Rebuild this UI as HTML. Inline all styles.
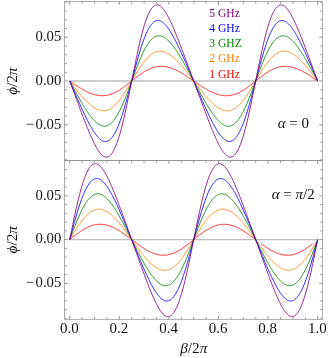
<!DOCTYPE html>
<html><head><meta charset="utf-8"><title>plot</title>
<style>html,body{margin:0;padding:0;background:#fff;}body{width:332px;height:358px;overflow:hidden;font-family:"Liberation Serif",serif;}svg{display:block;will-change:transform;}text{font-family:"Liberation Serif",serif;}</style></head><body>
<svg width="332" height="358" viewBox="0 0 332 358">
<rect width="332" height="358" fill="#fff"/>
<line x1="69.7" y1="81.0" x2="317.7" y2="81.0" stroke="#bdbdbd" stroke-width="1.3"/>
<line x1="69.7" y1="239.6" x2="317.7" y2="239.6" stroke="#bdbdbd" stroke-width="1.3"/>
<path d="M69.70,81.00 L70.32,81.43 L70.94,81.85 L71.56,82.28 L72.17,82.70 L72.79,83.12 L73.41,83.55 L74.03,83.96 L74.65,84.38 L75.27,84.80 L75.88,85.21 L76.50,85.62 L77.12,86.02 L77.74,86.42 L78.36,86.82 L78.98,87.21 L79.60,87.60 L80.21,87.98 L80.83,88.35 L81.45,88.73 L82.07,89.09 L82.69,89.45 L83.31,89.80 L83.92,90.14 L84.54,90.48 L85.16,90.81 L85.78,91.13 L86.40,91.44 L87.02,91.75 L87.64,92.04 L88.25,92.33 L88.87,92.60 L89.49,92.87 L90.11,93.12 L90.73,93.37 L91.35,93.60 L91.96,93.83 L92.58,94.04 L93.20,94.24 L93.82,94.43 L94.44,94.60 L95.06,94.77 L95.68,94.92 L96.29,95.06 L96.91,95.18 L97.53,95.30 L98.15,95.40 L98.77,95.48 L99.39,95.55 L100.00,95.61 L100.62,95.65 L101.24,95.68 L101.86,95.70 L102.48,95.70 L103.10,95.68 L103.71,95.65 L104.33,95.61 L104.95,95.55 L105.57,95.48 L106.19,95.39 L106.81,95.29 L107.43,95.17 L108.04,95.03 L108.66,94.89 L109.28,94.72 L109.90,94.54 L110.52,94.35 L111.14,94.15 L111.75,93.92 L112.37,93.69 L112.99,93.44 L113.61,93.18 L114.23,92.90 L114.85,92.61 L115.47,92.31 L116.08,91.99 L116.70,91.66 L117.32,91.32 L117.94,90.97 L118.56,90.61 L119.18,90.23 L119.79,89.85 L120.41,89.45 L121.03,89.05 L121.65,88.63 L122.27,88.21 L122.89,87.77 L123.51,87.33 L124.12,86.89 L124.74,86.43 L125.36,85.97 L125.98,85.50 L126.60,85.03 L127.22,84.55 L127.83,84.07 L128.45,83.59 L129.07,83.10 L129.69,82.61 L130.31,82.11 L130.93,81.62 L131.55,81.12 L132.16,80.63 L132.78,80.13 L133.40,79.64 L134.02,79.15 L134.64,78.66 L135.26,78.17 L135.87,77.69 L136.49,77.21 L137.11,76.73 L137.73,76.26 L138.35,75.80 L138.97,75.34 L139.59,74.89 L140.20,74.44 L140.82,74.01 L141.44,73.58 L142.06,73.16 L142.68,72.75 L143.30,72.35 L143.91,71.96 L144.53,71.58 L145.15,71.21 L145.77,70.85 L146.39,70.51 L147.01,70.17 L147.63,69.85 L148.24,69.54 L148.86,69.24 L149.48,68.96 L150.10,68.69 L150.72,68.43 L151.34,68.19 L151.95,67.96 L152.57,67.75 L153.19,67.55 L153.81,67.36 L154.43,67.19 L155.05,67.04 L155.67,66.90 L156.28,66.77 L156.90,66.66 L157.52,66.56 L158.14,66.48 L158.76,66.42 L159.38,66.37 L159.99,66.33 L160.61,66.31 L161.23,66.30 L161.85,66.31 L162.47,66.33 L163.09,66.37 L163.70,66.42 L164.32,66.48 L164.94,66.56 L165.56,66.65 L166.18,66.76 L166.80,66.88 L167.42,67.01 L168.03,67.15 L168.65,67.31 L169.27,67.48 L169.89,67.67 L170.51,67.86 L171.13,68.07 L171.74,68.28 L172.36,68.51 L172.98,68.75 L173.60,69.00 L174.22,69.26 L174.84,69.54 L175.46,69.82 L176.07,70.11 L176.69,70.41 L177.31,70.71 L177.93,71.03 L178.55,71.35 L179.17,71.69 L179.78,72.03 L180.40,72.38 L181.02,72.73 L181.64,73.09 L182.26,73.46 L182.88,73.83 L183.50,74.21 L184.11,74.60 L184.73,74.99 L185.35,75.38 L185.97,75.78 L186.59,76.18 L187.21,76.59 L187.82,77.00 L188.44,77.41 L189.06,77.83 L189.68,78.25 L190.30,78.67 L190.92,79.09 L191.54,79.51 L192.15,79.94 L192.77,80.36 L193.39,80.79 L194.01,81.21 L194.63,81.64 L195.25,82.06 L195.86,82.49 L196.48,82.91 L197.10,83.33 L197.72,83.75 L198.34,84.17 L198.96,84.59 L199.58,85.00 L200.19,85.41 L200.81,85.82 L201.43,86.22 L202.05,86.62 L202.67,87.01 L203.29,87.40 L203.90,87.79 L204.52,88.17 L205.14,88.54 L205.76,88.91 L206.38,89.27 L207.00,89.62 L207.62,89.97 L208.23,90.31 L208.85,90.65 L209.47,90.97 L210.09,91.29 L210.71,91.59 L211.33,91.89 L211.94,92.18 L212.56,92.46 L213.18,92.74 L213.80,93.00 L214.42,93.25 L215.04,93.49 L215.66,93.72 L216.27,93.93 L216.89,94.14 L217.51,94.33 L218.13,94.52 L218.75,94.69 L219.37,94.85 L219.98,94.99 L220.60,95.12 L221.22,95.24 L221.84,95.35 L222.46,95.44 L223.08,95.52 L223.70,95.58 L224.31,95.63 L224.93,95.67 L225.55,95.69 L226.17,95.70 L226.79,95.69 L227.41,95.67 L228.02,95.63 L228.64,95.58 L229.26,95.52 L229.88,95.44 L230.50,95.34 L231.12,95.23 L231.73,95.10 L232.35,94.96 L232.97,94.81 L233.59,94.64 L234.21,94.45 L234.83,94.25 L235.45,94.04 L236.06,93.81 L236.68,93.57 L237.30,93.31 L237.92,93.04 L238.54,92.76 L239.16,92.46 L239.77,92.15 L240.39,91.83 L241.01,91.49 L241.63,91.15 L242.25,90.79 L242.87,90.42 L243.49,90.04 L244.10,89.65 L244.72,89.25 L245.34,88.84 L245.96,88.42 L246.58,87.99 L247.20,87.56 L247.81,87.11 L248.43,86.66 L249.05,86.20 L249.67,85.74 L250.29,85.27 L250.91,84.79 L251.53,84.31 L252.14,83.83 L252.76,83.34 L253.38,82.85 L254.00,82.36 L254.62,81.87 L255.24,81.37 L255.85,80.88 L256.47,80.38 L257.09,79.89 L257.71,79.39 L258.33,78.90 L258.95,78.41 L259.57,77.93 L260.18,77.45 L260.80,76.97 L261.42,76.50 L262.04,76.03 L262.66,75.57 L263.28,75.11 L263.89,74.67 L264.51,74.23 L265.13,73.79 L265.75,73.37 L266.37,72.95 L266.99,72.55 L267.61,72.15 L268.22,71.77 L268.84,71.39 L269.46,71.03 L270.08,70.68 L270.70,70.34 L271.32,70.01 L271.93,69.69 L272.55,69.39 L273.17,69.10 L273.79,68.82 L274.41,68.56 L275.03,68.31 L275.65,68.08 L276.26,67.85 L276.88,67.65 L277.50,67.46 L278.12,67.28 L278.74,67.11 L279.36,66.97 L279.97,66.83 L280.59,66.71 L281.21,66.61 L281.83,66.52 L282.45,66.45 L283.07,66.39 L283.69,66.35 L284.30,66.32 L284.92,66.30 L285.54,66.30 L286.16,66.32 L286.78,66.35 L287.40,66.39 L288.01,66.45 L288.63,66.52 L289.25,66.60 L289.87,66.70 L290.49,66.82 L291.11,66.94 L291.72,67.08 L292.34,67.23 L292.96,67.40 L293.58,67.57 L294.20,67.76 L294.82,67.96 L295.44,68.17 L296.05,68.40 L296.67,68.63 L297.29,68.88 L297.91,69.13 L298.53,69.40 L299.15,69.67 L299.76,69.96 L300.38,70.25 L301.00,70.56 L301.62,70.87 L302.24,71.19 L302.86,71.52 L303.48,71.86 L304.09,72.20 L304.71,72.55 L305.33,72.91 L305.95,73.27 L306.57,73.65 L307.19,74.02 L307.80,74.40 L308.42,74.79 L309.04,75.18 L309.66,75.58 L310.28,75.98 L310.90,76.38 L311.52,76.79 L312.13,77.20 L312.75,77.62 L313.37,78.04 L313.99,78.45 L314.61,78.88 L315.23,79.30 L315.84,79.72 L316.46,80.15 L317.08,80.57 L317.70,81.00" fill="none" stroke="#ff0000" stroke-width="0.85" stroke-linejoin="round"/>
<path d="M69.70,81.00 L70.32,81.81 L70.94,82.61 L71.56,83.42 L72.17,84.23 L72.79,85.03 L73.41,85.83 L74.03,86.63 L74.65,87.42 L75.27,88.21 L75.88,89.00 L76.50,89.78 L77.12,90.56 L77.74,91.33 L78.36,92.09 L78.98,92.85 L79.60,93.60 L80.21,94.34 L80.83,95.07 L81.45,95.80 L82.07,96.51 L82.69,97.22 L83.31,97.91 L83.92,98.60 L84.54,99.27 L85.16,99.93 L85.78,100.57 L86.40,101.20 L87.02,101.82 L87.64,102.43 L88.25,103.01 L88.87,103.58 L89.49,104.14 L90.11,104.67 L90.73,105.19 L91.35,105.69 L91.96,106.17 L92.58,106.64 L93.20,107.08 L93.82,107.49 L94.44,107.89 L95.06,108.26 L95.68,108.62 L96.29,108.94 L96.91,109.25 L97.53,109.52 L98.15,109.77 L98.77,110.00 L99.39,110.20 L100.00,110.37 L100.62,110.51 L101.24,110.63 L101.86,110.71 L102.48,110.77 L103.10,110.80 L103.71,110.79 L104.33,110.76 L104.95,110.70 L105.57,110.60 L106.19,110.47 L106.81,110.31 L107.43,110.12 L108.04,109.90 L108.66,109.65 L109.28,109.36 L109.90,109.04 L110.52,108.69 L111.14,108.30 L111.75,107.89 L112.37,107.44 L112.99,106.96 L113.61,106.45 L114.23,105.91 L114.85,105.34 L115.47,104.74 L116.08,104.11 L116.70,103.45 L117.32,102.76 L117.94,102.04 L118.56,101.30 L119.18,100.53 L119.79,99.73 L120.41,98.92 L121.03,98.07 L121.65,97.21 L122.27,96.32 L122.89,95.41 L123.51,94.49 L124.12,93.54 L124.74,92.58 L125.36,91.60 L125.98,90.61 L126.60,89.61 L127.22,88.59 L127.83,87.57 L128.45,86.53 L129.07,85.49 L129.69,84.44 L130.31,83.38 L130.93,82.32 L131.55,81.26 L132.16,80.21 L132.78,79.15 L133.40,78.09 L134.02,77.04 L134.64,75.99 L135.26,74.95 L135.87,73.92 L136.49,72.90 L137.11,71.89 L137.73,70.89 L138.35,69.91 L138.97,68.94 L139.59,67.98 L140.20,67.05 L140.82,66.13 L141.44,65.23 L142.06,64.36 L142.68,63.50 L143.30,62.67 L143.91,61.87 L144.53,61.08 L145.15,60.33 L145.77,59.60 L146.39,58.89 L147.01,58.22 L147.63,57.57 L148.24,56.96 L148.86,56.37 L149.48,55.82 L150.10,55.29 L150.72,54.80 L151.34,54.33 L151.95,53.90 L152.57,53.50 L153.19,53.13 L153.81,52.80 L154.43,52.49 L155.05,52.22 L155.67,51.98 L156.28,51.78 L156.90,51.60 L157.52,51.46 L158.14,51.35 L158.76,51.27 L159.38,51.22 L159.99,51.20 L160.61,51.21 L161.23,51.25 L161.85,51.33 L162.47,51.43 L163.09,51.56 L163.70,51.71 L164.32,51.90 L164.94,52.11 L165.56,52.35 L166.18,52.61 L166.80,52.90 L167.42,53.22 L168.03,53.56 L168.65,53.92 L169.27,54.30 L169.89,54.71 L170.51,55.14 L171.13,55.59 L171.74,56.06 L172.36,56.55 L172.98,57.06 L173.60,57.59 L174.22,58.14 L174.84,58.70 L175.46,59.28 L176.07,59.87 L176.69,60.48 L177.31,61.11 L177.93,61.75 L178.55,62.40 L179.17,63.07 L179.78,63.74 L180.40,64.43 L181.02,65.13 L181.64,65.84 L182.26,66.56 L182.88,67.29 L183.50,68.03 L184.11,68.78 L184.73,69.53 L185.35,70.29 L185.97,71.06 L186.59,71.83 L187.21,72.61 L187.82,73.39 L188.44,74.18 L189.06,74.97 L189.68,75.77 L190.30,76.57 L190.92,77.37 L191.54,78.18 L192.15,78.98 L192.77,79.79 L193.39,80.60 L194.01,81.40 L194.63,82.21 L195.25,83.02 L195.86,83.82 L196.48,84.63 L197.10,85.43 L197.72,86.23 L198.34,87.03 L198.96,87.82 L199.58,88.61 L200.19,89.39 L200.81,90.17 L201.43,90.94 L202.05,91.71 L202.67,92.47 L203.29,93.22 L203.90,93.97 L204.52,94.71 L205.14,95.44 L205.76,96.16 L206.38,96.87 L207.00,97.57 L207.62,98.26 L208.23,98.93 L208.85,99.60 L209.47,100.25 L210.09,100.89 L210.71,101.52 L211.33,102.13 L211.94,102.72 L212.56,103.30 L213.18,103.86 L213.80,104.41 L214.42,104.94 L215.04,105.45 L215.66,105.94 L216.27,106.41 L216.89,106.86 L217.51,107.29 L218.13,107.70 L218.75,108.08 L219.37,108.44 L219.98,108.78 L220.60,109.10 L221.22,109.39 L221.84,109.65 L222.46,109.89 L223.08,110.10 L223.70,110.29 L224.31,110.44 L224.93,110.57 L225.55,110.67 L226.17,110.75 L226.79,110.79 L227.41,110.80 L228.02,110.78 L228.64,110.73 L229.26,110.65 L229.88,110.54 L230.50,110.40 L231.12,110.22 L231.73,110.02 L232.35,109.78 L232.97,109.51 L233.59,109.20 L234.21,108.87 L234.83,108.50 L235.45,108.10 L236.06,107.67 L236.68,107.20 L237.30,106.71 L237.92,106.18 L238.54,105.63 L239.16,105.04 L239.77,104.43 L240.39,103.78 L241.01,103.11 L241.63,102.40 L242.25,101.67 L242.87,100.92 L243.49,100.13 L244.10,99.33 L244.72,98.50 L245.34,97.64 L245.96,96.77 L246.58,95.87 L247.20,94.95 L247.81,94.02 L248.43,93.06 L249.05,92.09 L249.67,91.11 L250.29,90.11 L250.91,89.10 L251.53,88.08 L252.14,87.05 L252.76,86.01 L253.38,84.96 L254.00,83.91 L254.62,82.85 L255.24,81.79 L255.85,80.74 L256.47,79.68 L257.09,78.62 L257.71,77.56 L258.33,76.51 L258.95,75.47 L259.57,74.43 L260.18,73.41 L260.80,72.39 L261.42,71.39 L262.04,70.40 L262.66,69.42 L263.28,68.46 L263.89,67.51 L264.51,66.59 L265.13,65.68 L265.75,64.79 L266.37,63.93 L266.99,63.08 L267.61,62.27 L268.22,61.47 L268.84,60.70 L269.46,59.96 L270.08,59.24 L270.70,58.55 L271.32,57.89 L271.93,57.26 L272.55,56.66 L273.17,56.09 L273.79,55.55 L274.41,55.04 L275.03,54.56 L275.65,54.11 L276.26,53.70 L276.88,53.31 L277.50,52.96 L278.12,52.64 L278.74,52.35 L279.36,52.10 L279.97,51.88 L280.59,51.69 L281.21,51.53 L281.83,51.40 L282.45,51.30 L283.07,51.24 L283.69,51.21 L284.30,51.20 L284.92,51.23 L285.54,51.29 L286.16,51.37 L286.78,51.49 L287.40,51.63 L288.01,51.80 L288.63,52.00 L289.25,52.23 L289.87,52.48 L290.49,52.75 L291.11,53.06 L291.72,53.38 L292.34,53.74 L292.96,54.11 L293.58,54.51 L294.20,54.92 L294.82,55.36 L295.44,55.83 L296.05,56.31 L296.67,56.81 L297.29,57.33 L297.91,57.86 L298.53,58.42 L299.15,58.99 L299.76,59.57 L300.38,60.18 L301.00,60.80 L301.62,61.43 L302.24,62.07 L302.86,62.73 L303.48,63.40 L304.09,64.09 L304.71,64.78 L305.33,65.49 L305.95,66.20 L306.57,66.93 L307.19,67.66 L307.80,68.40 L308.42,69.15 L309.04,69.91 L309.66,70.67 L310.28,71.44 L310.90,72.22 L311.52,73.00 L312.13,73.79 L312.75,74.58 L313.37,75.37 L313.99,76.17 L314.61,76.97 L315.23,77.77 L315.84,78.58 L316.46,79.39 L317.08,80.19 L317.70,81.00" fill="none" stroke="#ff8000" stroke-width="0.85" stroke-linejoin="round"/>
<path d="M69.70,81.00 L70.32,82.15 L70.94,83.29 L71.56,84.44 L72.17,85.58 L72.79,86.73 L73.41,87.87 L74.03,89.00 L74.65,90.14 L75.27,91.27 L75.88,92.39 L76.50,93.51 L77.12,94.63 L77.74,95.74 L78.36,96.84 L78.98,97.93 L79.60,99.02 L80.21,100.10 L80.83,101.17 L81.45,102.23 L82.07,103.27 L82.69,104.31 L83.31,105.34 L83.92,106.35 L84.54,107.35 L85.16,108.33 L85.78,109.30 L86.40,110.25 L87.02,111.19 L87.64,112.10 L88.25,113.00 L88.87,113.88 L89.49,114.74 L90.11,115.57 L90.73,116.38 L91.35,117.17 L91.96,117.94 L92.58,118.67 L93.20,119.38 L93.82,120.06 L94.44,120.71 L95.06,121.33 L95.68,121.92 L96.29,122.48 L96.91,123.00 L97.53,123.49 L98.15,123.94 L98.77,124.35 L99.39,124.72 L100.00,125.06 L100.62,125.35 L101.24,125.60 L101.86,125.81 L102.48,125.98 L103.10,126.10 L103.71,126.17 L104.33,126.20 L104.95,126.18 L105.57,126.11 L106.19,125.99 L106.81,125.83 L107.43,125.61 L108.04,125.34 L108.66,125.02 L109.28,124.65 L109.90,124.23 L110.52,123.75 L111.14,123.23 L111.75,122.65 L112.37,122.01 L112.99,121.33 L113.61,120.59 L114.23,119.80 L114.85,118.97 L115.47,118.08 L116.08,117.14 L116.70,116.15 L117.32,115.11 L117.94,114.03 L118.56,112.89 L119.18,111.72 L119.79,110.50 L120.41,109.24 L121.03,107.93 L121.65,106.59 L122.27,105.21 L122.89,103.80 L123.51,102.35 L124.12,100.87 L124.74,99.35 L125.36,97.82 L125.98,96.25 L126.60,94.66 L127.22,93.06 L127.83,91.43 L128.45,89.79 L129.07,88.13 L129.69,86.46 L130.31,84.79 L130.93,83.11 L131.55,81.42 L132.16,79.74 L132.78,78.05 L133.40,76.37 L134.02,74.70 L134.64,73.04 L135.26,71.39 L135.87,69.76 L136.49,68.14 L137.11,66.54 L137.73,64.96 L138.35,63.41 L138.97,61.89 L139.59,60.39 L140.20,58.92 L140.82,57.49 L141.44,56.09 L142.06,54.73 L142.68,53.41 L143.30,52.13 L143.91,50.89 L144.53,49.69 L145.15,48.53 L145.77,47.43 L146.39,46.37 L147.01,45.35 L147.63,44.39 L148.24,43.47 L148.86,42.61 L149.48,41.79 L150.10,41.03 L150.72,40.32 L151.34,39.66 L151.95,39.06 L152.57,38.50 L153.19,38.00 L153.81,37.55 L154.43,37.16 L155.05,36.81 L155.67,36.52 L156.28,36.27 L156.90,36.08 L157.52,35.94 L158.14,35.85 L158.76,35.80 L159.38,35.81 L159.99,35.86 L160.61,35.96 L161.23,36.10 L161.85,36.29 L162.47,36.52 L163.09,36.79 L163.70,37.10 L164.32,37.46 L164.94,37.85 L165.56,38.28 L166.18,38.75 L166.80,39.26 L167.42,39.79 L168.03,40.37 L168.65,40.97 L169.27,41.61 L169.89,42.27 L170.51,42.97 L171.13,43.69 L171.74,44.44 L172.36,45.22 L172.98,46.02 L173.60,46.84 L174.22,47.69 L174.84,48.56 L175.46,49.44 L176.07,50.35 L176.69,51.28 L177.31,52.22 L177.93,53.18 L178.55,54.16 L179.17,55.15 L179.78,56.16 L180.40,57.17 L181.02,58.21 L181.64,59.25 L182.26,60.30 L182.88,61.37 L183.50,62.44 L184.11,63.52 L184.73,64.61 L185.35,65.71 L185.97,66.82 L186.59,67.93 L187.21,69.05 L187.82,70.17 L188.44,71.30 L189.06,72.43 L189.68,73.56 L190.30,74.70 L190.92,75.84 L191.54,76.99 L192.15,78.13 L192.77,79.28 L193.39,80.43 L194.01,81.57 L194.63,82.72 L195.25,83.87 L195.86,85.01 L196.48,86.16 L197.10,87.30 L197.72,88.44 L198.34,89.57 L198.96,90.70 L199.58,91.83 L200.19,92.95 L200.81,94.07 L201.43,95.18 L202.05,96.29 L202.67,97.39 L203.29,98.48 L203.90,99.56 L204.52,100.63 L205.14,101.70 L205.76,102.75 L206.38,103.79 L207.00,104.83 L207.62,105.84 L208.23,106.85 L208.85,107.84 L209.47,108.82 L210.09,109.78 L210.71,110.72 L211.33,111.65 L211.94,112.56 L212.56,113.44 L213.18,114.31 L213.80,115.16 L214.42,115.98 L215.04,116.78 L215.66,117.56 L216.27,118.31 L216.89,119.03 L217.51,119.73 L218.13,120.39 L218.75,121.03 L219.37,121.63 L219.98,122.21 L220.60,122.74 L221.22,123.25 L221.84,123.72 L222.46,124.15 L223.08,124.54 L223.70,124.90 L224.31,125.21 L224.93,125.48 L225.55,125.71 L226.17,125.90 L226.79,126.04 L227.41,126.14 L228.02,126.19 L228.64,126.20 L229.26,126.15 L229.88,126.06 L230.50,125.92 L231.12,125.73 L231.73,125.48 L232.35,125.19 L232.97,124.84 L233.59,124.45 L234.21,124.00 L234.83,123.50 L235.45,122.94 L236.06,122.34 L236.68,121.68 L237.30,120.97 L237.92,120.21 L238.54,119.39 L239.16,118.53 L239.77,117.61 L240.39,116.65 L241.01,115.63 L241.63,114.57 L242.25,113.47 L242.87,112.31 L243.49,111.11 L244.10,109.87 L244.72,108.59 L245.34,107.27 L245.96,105.91 L246.58,104.51 L247.20,103.08 L247.81,101.61 L248.43,100.11 L249.05,98.59 L249.67,97.04 L250.29,95.46 L250.91,93.86 L251.53,92.24 L252.14,90.61 L252.76,88.96 L253.38,87.30 L254.00,85.63 L254.62,83.95 L255.24,82.26 L255.85,80.58 L256.47,78.89 L257.09,77.21 L257.71,75.54 L258.33,73.87 L258.95,72.21 L259.57,70.57 L260.18,68.94 L260.80,67.34 L261.42,65.75 L262.04,64.18 L262.66,62.65 L263.28,61.13 L263.89,59.65 L264.51,58.20 L265.13,56.79 L265.75,55.41 L266.37,54.07 L266.99,52.76 L267.61,51.50 L268.22,50.28 L268.84,49.11 L269.46,47.97 L270.08,46.89 L270.70,45.85 L271.32,44.86 L271.93,43.92 L272.55,43.03 L273.17,42.20 L273.79,41.41 L274.41,40.67 L275.03,39.99 L275.65,39.35 L276.26,38.77 L276.88,38.25 L277.50,37.77 L278.12,37.35 L278.74,36.98 L279.36,36.66 L279.97,36.39 L280.59,36.17 L281.21,36.01 L281.83,35.89 L282.45,35.82 L283.07,35.80 L283.69,35.83 L284.30,35.90 L284.92,36.02 L285.54,36.19 L286.16,36.40 L286.78,36.65 L287.40,36.94 L288.01,37.28 L288.63,37.65 L289.25,38.06 L289.87,38.51 L290.49,39.00 L291.11,39.52 L291.72,40.08 L292.34,40.67 L292.96,41.29 L293.58,41.94 L294.20,42.62 L294.82,43.33 L295.44,44.06 L296.05,44.83 L296.67,45.62 L297.29,46.43 L297.91,47.26 L298.53,48.12 L299.15,49.00 L299.76,49.90 L300.38,50.81 L301.00,51.75 L301.62,52.70 L302.24,53.67 L302.86,54.65 L303.48,55.65 L304.09,56.66 L304.71,57.69 L305.33,58.73 L305.95,59.77 L306.57,60.83 L307.19,61.90 L307.80,62.98 L308.42,64.07 L309.04,65.16 L309.66,66.26 L310.28,67.37 L310.90,68.49 L311.52,69.61 L312.13,70.73 L312.75,71.86 L313.37,73.00 L313.99,74.13 L314.61,75.27 L315.23,76.42 L315.84,77.56 L316.46,78.71 L317.08,79.85 L317.70,81.00" fill="none" stroke="#008000" stroke-width="0.85" stroke-linejoin="round"/>
<path d="M69.70,81.00 L70.32,82.43 L70.94,83.86 L71.56,85.29 L72.17,86.72 L72.79,88.15 L73.41,89.58 L74.03,91.00 L74.65,92.42 L75.27,93.84 L75.88,95.25 L76.50,96.67 L77.12,98.07 L77.74,99.47 L78.36,100.87 L78.98,102.26 L79.60,103.65 L80.21,105.02 L80.83,106.39 L81.45,107.75 L82.07,109.10 L82.69,110.44 L83.31,111.77 L83.92,113.09 L84.54,114.39 L85.16,115.69 L85.78,116.96 L86.40,118.22 L87.02,119.46 L87.64,120.69 L88.25,121.90 L88.87,123.08 L89.49,124.24 L90.11,125.38 L90.73,126.50 L91.35,127.58 L91.96,128.64 L92.58,129.68 L93.20,130.68 L93.82,131.64 L94.44,132.58 L95.06,133.47 L95.68,134.33 L96.29,135.15 L96.91,135.93 L97.53,136.67 L98.15,137.36 L98.77,138.00 L99.39,138.60 L100.00,139.14 L100.62,139.64 L101.24,140.07 L101.86,140.46 L102.48,140.78 L103.10,141.05 L103.71,141.26 L104.33,141.40 L104.95,141.48 L105.57,141.50 L106.19,141.45 L106.81,141.32 L107.43,141.14 L108.04,140.87 L108.66,140.54 L109.28,140.14 L109.90,139.66 L110.52,139.11 L111.14,138.48 L111.75,137.78 L112.37,137.00 L112.99,136.15 L113.61,135.22 L114.23,134.21 L114.85,133.13 L115.47,131.98 L116.08,130.75 L116.70,129.45 L117.32,128.08 L117.94,126.63 L118.56,125.12 L119.18,123.54 L119.79,121.89 L120.41,120.18 L121.03,118.41 L121.65,116.58 L122.27,114.69 L122.89,112.74 L123.51,110.75 L124.12,108.70 L124.74,106.61 L125.36,104.48 L125.98,102.31 L126.60,100.10 L127.22,97.86 L127.83,95.59 L128.45,93.30 L129.07,90.98 L129.69,88.65 L130.31,86.30 L130.93,83.95 L131.55,81.59 L132.16,79.23 L132.78,76.87 L133.40,74.52 L134.02,72.18 L134.64,69.86 L135.26,67.56 L135.87,65.27 L136.49,63.02 L137.11,60.79 L137.73,58.60 L138.35,56.45 L138.97,54.34 L139.59,52.27 L140.20,50.25 L140.82,48.28 L141.44,46.36 L142.06,44.50 L142.68,42.70 L143.30,40.95 L143.91,39.27 L144.53,37.66 L145.15,36.11 L145.77,34.63 L146.39,33.23 L147.01,31.89 L147.63,30.62 L148.24,29.43 L148.86,28.32 L149.48,27.27 L150.10,26.31 L150.72,25.42 L151.34,24.60 L151.95,23.86 L152.57,23.20 L153.19,22.61 L153.81,22.09 L154.43,21.65 L155.05,21.28 L155.67,20.99 L156.28,20.76 L156.90,20.61 L157.52,20.52 L158.14,20.50 L158.76,20.55 L159.38,20.66 L159.99,20.84 L160.61,21.07 L161.23,21.37 L161.85,21.73 L162.47,22.14 L163.09,22.60 L163.70,23.12 L164.32,23.69 L164.94,24.31 L165.56,24.98 L166.18,25.70 L166.80,26.45 L167.42,27.25 L168.03,28.09 L168.65,28.97 L169.27,29.89 L169.89,30.84 L170.51,31.82 L171.13,32.84 L171.74,33.88 L172.36,34.96 L172.98,36.06 L173.60,37.18 L174.22,38.34 L174.84,39.51 L175.46,40.71 L176.07,41.92 L176.69,43.15 L177.31,44.41 L177.93,45.67 L178.55,46.96 L179.17,48.26 L179.78,49.57 L180.40,50.89 L181.02,52.23 L181.64,53.57 L182.26,54.93 L182.88,56.29 L183.50,57.67 L184.11,59.05 L184.73,60.43 L185.35,61.83 L185.97,63.23 L186.59,64.63 L187.21,66.04 L187.82,67.45 L188.44,68.87 L189.06,70.29 L189.68,71.71 L190.30,73.14 L190.92,74.56 L191.54,75.99 L192.15,77.42 L192.77,78.85 L193.39,80.28 L194.01,81.72 L194.63,83.15 L195.25,84.58 L195.86,86.01 L196.48,87.44 L197.10,88.86 L197.72,90.29 L198.34,91.71 L198.96,93.13 L199.58,94.55 L200.19,95.96 L200.81,97.37 L201.43,98.77 L202.05,100.17 L202.67,101.57 L203.29,102.95 L203.90,104.33 L204.52,105.71 L205.14,107.07 L205.76,108.43 L206.38,109.77 L207.00,111.11 L207.62,112.43 L208.23,113.74 L208.85,115.04 L209.47,116.33 L210.09,117.59 L210.71,118.85 L211.33,120.08 L211.94,121.29 L212.56,122.49 L213.18,123.66 L213.80,124.82 L214.42,125.94 L215.04,127.04 L215.66,128.12 L216.27,129.16 L216.89,130.18 L217.51,131.16 L218.13,132.11 L218.75,133.03 L219.37,133.91 L219.98,134.75 L220.60,135.55 L221.22,136.30 L221.84,137.02 L222.46,137.69 L223.08,138.31 L223.70,138.88 L224.31,139.40 L224.93,139.86 L225.55,140.27 L226.17,140.63 L226.79,140.93 L227.41,141.16 L228.02,141.34 L228.64,141.45 L229.26,141.50 L229.88,141.48 L230.50,141.39 L231.12,141.24 L231.73,141.01 L232.35,140.72 L232.97,140.35 L233.59,139.91 L234.21,139.39 L234.83,138.80 L235.45,138.14 L236.06,137.40 L236.68,136.58 L237.30,135.69 L237.92,134.73 L238.54,133.68 L239.16,132.57 L239.77,131.38 L240.39,130.11 L241.01,128.77 L241.63,127.37 L242.25,125.89 L242.87,124.34 L243.49,122.73 L244.10,121.05 L244.72,119.30 L245.34,117.50 L245.96,115.64 L246.58,113.72 L247.20,111.75 L247.81,109.73 L248.43,107.66 L249.05,105.55 L249.67,103.40 L250.29,101.21 L250.91,98.98 L251.53,96.73 L252.14,94.44 L252.76,92.14 L253.38,89.82 L254.00,87.48 L254.62,85.13 L255.24,82.77 L255.85,80.41 L256.47,78.05 L257.09,75.70 L257.71,73.35 L258.33,71.02 L258.95,68.70 L259.57,66.41 L260.18,64.14 L260.80,61.90 L261.42,59.69 L262.04,57.52 L262.66,55.39 L263.28,53.30 L263.89,51.25 L264.51,49.26 L265.13,47.31 L265.75,45.42 L266.37,43.59 L266.99,41.82 L267.61,40.11 L268.22,38.46 L268.84,36.88 L269.46,35.37 L270.08,33.92 L270.70,32.55 L271.32,31.25 L271.93,30.02 L272.55,28.87 L273.17,27.79 L273.79,26.78 L274.41,25.85 L275.03,25.00 L275.65,24.22 L276.26,23.52 L276.88,22.89 L277.50,22.34 L278.12,21.86 L278.74,21.46 L279.36,21.13 L279.97,20.86 L280.59,20.68 L281.21,20.55 L281.83,20.50 L282.45,20.52 L283.07,20.60 L283.69,20.74 L284.30,20.95 L284.92,21.22 L285.54,21.54 L286.16,21.93 L286.78,22.36 L287.40,22.86 L288.01,23.40 L288.63,24.00 L289.25,24.64 L289.87,25.33 L290.49,26.07 L291.11,26.85 L291.72,27.67 L292.34,28.53 L292.96,29.42 L293.58,30.36 L294.20,31.32 L294.82,32.32 L295.44,33.36 L296.05,34.42 L296.67,35.50 L297.29,36.62 L297.91,37.76 L298.53,38.92 L299.15,40.10 L299.76,41.31 L300.38,42.54 L301.00,43.78 L301.62,45.04 L302.24,46.31 L302.86,47.61 L303.48,48.91 L304.09,50.23 L304.71,51.56 L305.33,52.90 L305.95,54.25 L306.57,55.61 L307.19,56.98 L307.80,58.35 L308.42,59.74 L309.04,61.13 L309.66,62.53 L310.28,63.93 L310.90,65.33 L311.52,66.75 L312.13,68.16 L312.75,69.58 L313.37,71.00 L313.99,72.42 L314.61,73.85 L315.23,75.28 L315.84,76.71 L316.46,78.14 L317.08,79.57 L317.70,81.00" fill="none" stroke="#0000ff" stroke-width="0.85" stroke-linejoin="round"/>
<path d="M69.70,81.00 L70.32,82.67 L70.94,84.34 L71.56,86.01 L72.17,87.68 L72.79,89.34 L73.41,91.01 L74.03,92.68 L74.65,94.35 L75.27,96.01 L75.88,97.67 L76.50,99.34 L77.12,101.00 L77.74,102.65 L78.36,104.31 L78.98,105.96 L79.60,107.61 L80.21,109.25 L80.83,110.89 L81.45,112.53 L82.07,114.16 L82.69,115.78 L83.31,117.39 L83.92,119.00 L84.54,120.59 L85.16,122.18 L85.78,123.75 L86.40,125.31 L87.02,126.86 L87.64,128.39 L88.25,129.90 L88.87,131.39 L89.49,132.87 L90.11,134.32 L90.73,135.75 L91.35,137.15 L91.96,138.53 L92.58,139.87 L93.20,141.19 L93.82,142.46 L94.44,143.71 L95.06,144.91 L95.68,146.08 L96.29,147.20 L96.91,148.27 L97.53,149.30 L98.15,150.27 L98.77,151.20 L99.39,152.06 L100.00,152.87 L100.62,153.61 L101.24,154.29 L101.86,154.91 L102.48,155.45 L103.10,155.92 L103.71,156.32 L104.33,156.63 L104.95,156.87 L105.57,157.03 L106.19,157.10 L106.81,157.08 L107.43,156.97 L108.04,156.77 L108.66,156.48 L109.28,156.09 L109.90,155.61 L110.52,155.03 L111.14,154.35 L111.75,153.56 L112.37,152.68 L112.99,151.69 L113.61,150.61 L114.23,149.42 L114.85,148.12 L115.47,146.72 L116.08,145.23 L116.70,143.63 L117.32,141.93 L117.94,140.13 L118.56,138.24 L119.18,136.25 L119.79,134.16 L120.41,131.99 L121.03,129.73 L121.65,127.39 L122.27,124.96 L122.89,122.46 L123.51,119.88 L124.12,117.23 L124.74,114.52 L125.36,111.75 L125.98,108.92 L126.60,106.04 L127.22,103.11 L127.83,100.14 L128.45,97.14 L129.07,94.10 L129.69,91.04 L130.31,87.96 L130.93,84.87 L131.55,81.78 L132.16,78.68 L132.78,75.58 L133.40,72.49 L134.02,69.43 L134.64,66.38 L135.26,63.36 L135.87,60.37 L136.49,57.42 L137.11,54.52 L137.73,51.66 L138.35,48.86 L138.97,46.12 L139.59,43.43 L140.20,40.82 L140.82,38.28 L141.44,35.82 L142.06,33.43 L142.68,31.13 L143.30,28.91 L143.91,26.78 L144.53,24.75 L145.15,22.81 L145.77,20.96 L146.39,19.21 L147.01,17.56 L147.63,16.01 L148.24,14.56 L148.86,13.22 L149.48,11.98 L150.10,10.84 L150.72,9.80 L151.34,8.86 L151.95,8.03 L152.57,7.30 L153.19,6.67 L153.81,6.14 L154.43,5.70 L155.05,5.36 L155.67,5.12 L156.28,4.96 L156.90,4.90 L157.52,4.93 L158.14,5.04 L158.76,5.24 L159.38,5.52 L159.99,5.87 L160.61,6.31 L161.23,6.81 L161.85,7.39 L162.47,8.04 L163.09,8.75 L163.70,9.53 L164.32,10.36 L164.94,11.26 L165.56,12.21 L166.18,13.21 L166.80,14.26 L167.42,15.36 L168.03,16.50 L168.65,17.68 L169.27,18.91 L169.89,20.17 L170.51,21.47 L171.13,22.80 L171.74,24.16 L172.36,25.55 L172.98,26.96 L173.60,28.40 L174.22,29.87 L174.84,31.35 L175.46,32.86 L176.07,34.38 L176.69,35.92 L177.31,37.47 L177.93,39.04 L178.55,40.61 L179.17,42.21 L179.78,43.81 L180.40,45.42 L181.02,47.03 L181.64,48.66 L182.26,50.29 L182.88,51.93 L183.50,53.57 L184.11,55.21 L184.73,56.87 L185.35,58.52 L185.97,60.18 L186.59,61.83 L187.21,63.50 L187.82,65.16 L188.44,66.82 L189.06,68.49 L189.68,70.15 L190.30,71.82 L190.92,73.49 L191.54,75.16 L192.15,76.83 L192.77,78.50 L193.39,80.17 L194.01,81.83 L194.63,83.50 L195.25,85.17 L195.86,86.84 L196.48,88.51 L197.10,90.18 L197.72,91.85 L198.34,93.51 L198.96,95.18 L199.58,96.84 L200.19,98.50 L200.81,100.17 L201.43,101.82 L202.05,103.48 L202.67,105.13 L203.29,106.79 L203.90,108.43 L204.52,110.07 L205.14,111.71 L205.76,113.34 L206.38,114.97 L207.00,116.58 L207.62,118.19 L208.23,119.79 L208.85,121.39 L209.47,122.96 L210.09,124.53 L210.71,126.08 L211.33,127.62 L211.94,129.14 L212.56,130.65 L213.18,132.13 L213.80,133.60 L214.42,135.04 L215.04,136.45 L215.66,137.84 L216.27,139.20 L216.89,140.53 L217.51,141.83 L218.13,143.09 L218.75,144.32 L219.37,145.50 L219.98,146.64 L220.60,147.74 L221.22,148.79 L221.84,149.79 L222.46,150.74 L223.08,151.64 L223.70,152.47 L224.31,153.25 L224.93,153.96 L225.55,154.61 L226.17,155.19 L226.79,155.69 L227.41,156.13 L228.02,156.48 L228.64,156.76 L229.26,156.96 L229.88,157.07 L230.50,157.10 L231.12,157.04 L231.73,156.88 L232.35,156.64 L232.97,156.30 L233.59,155.86 L234.21,155.33 L234.83,154.70 L235.45,153.97 L236.06,153.14 L236.68,152.20 L237.30,151.16 L237.92,150.02 L238.54,148.78 L239.16,147.44 L239.77,145.99 L240.39,144.44 L241.01,142.79 L241.63,141.04 L242.25,139.19 L242.87,137.25 L243.49,135.22 L244.10,133.09 L244.72,130.87 L245.34,128.57 L245.96,126.18 L246.58,123.72 L247.20,121.18 L247.81,118.57 L248.43,115.88 L249.05,113.14 L249.67,110.34 L250.29,107.48 L250.91,104.58 L251.53,101.63 L252.14,98.64 L252.76,95.62 L253.38,92.57 L254.00,89.51 L254.62,86.42 L255.24,83.32 L255.85,80.22 L256.47,77.13 L257.09,74.04 L257.71,70.96 L258.33,67.90 L258.95,64.86 L259.57,61.86 L260.18,58.89 L260.80,55.96 L261.42,53.08 L262.04,50.25 L262.66,47.48 L263.28,44.77 L263.89,42.12 L264.51,39.54 L265.13,37.04 L265.75,34.61 L266.37,32.27 L266.99,30.01 L267.61,27.84 L268.22,25.75 L268.84,23.76 L269.46,21.87 L270.08,20.07 L270.70,18.37 L271.32,16.77 L271.93,15.28 L272.55,13.88 L273.17,12.58 L273.79,11.39 L274.41,10.31 L275.03,9.32 L275.65,8.44 L276.26,7.65 L276.88,6.97 L277.50,6.39 L278.12,5.91 L278.74,5.52 L279.36,5.23 L279.97,5.03 L280.59,4.92 L281.21,4.90 L281.83,4.97 L282.45,5.13 L283.07,5.37 L283.69,5.68 L284.30,6.08 L284.92,6.55 L285.54,7.09 L286.16,7.71 L286.78,8.39 L287.40,9.13 L288.01,9.94 L288.63,10.80 L289.25,11.73 L289.87,12.70 L290.49,13.73 L291.11,14.80 L291.72,15.92 L292.34,17.09 L292.96,18.29 L293.58,19.54 L294.20,20.81 L294.82,22.13 L295.44,23.47 L296.05,24.85 L296.67,26.25 L297.29,27.68 L297.91,29.13 L298.53,30.61 L299.15,32.10 L299.76,33.61 L300.38,35.14 L301.00,36.69 L301.62,38.25 L302.24,39.82 L302.86,41.41 L303.48,43.00 L304.09,44.61 L304.71,46.22 L305.33,47.84 L305.95,49.47 L306.57,51.11 L307.19,52.75 L307.80,54.39 L308.42,56.04 L309.04,57.69 L309.66,59.35 L310.28,61.00 L310.90,62.66 L311.52,64.33 L312.13,65.99 L312.75,67.65 L313.37,69.32 L313.99,70.99 L314.61,72.66 L315.23,74.32 L315.84,75.99 L316.46,77.66 L317.08,79.33 L317.70,81.00" fill="none" stroke="#800080" stroke-width="0.85" stroke-linejoin="round"/>
<path d="M69.70,239.60 L70.32,239.10 L70.94,238.61 L71.56,238.11 L72.17,237.62 L72.79,237.13 L73.41,236.64 L74.03,236.16 L74.65,235.67 L75.27,235.20 L75.89,234.73 L76.50,234.26 L77.12,233.80 L77.74,233.34 L78.36,232.89 L78.98,232.45 L79.60,232.02 L80.22,231.59 L80.83,231.18 L81.45,230.77 L82.07,230.37 L82.69,229.98 L83.31,229.61 L83.93,229.24 L84.55,228.88 L85.17,228.54 L85.78,228.20 L86.40,227.88 L87.02,227.57 L87.64,227.27 L88.26,226.99 L88.88,226.72 L89.50,226.46 L90.11,226.22 L90.73,225.99 L91.35,225.77 L91.97,225.57 L92.59,225.39 L93.21,225.21 L93.83,225.05 L94.44,224.91 L95.06,224.78 L95.68,224.67 L96.30,224.57 L96.92,224.49 L97.54,224.42 L98.16,224.37 L98.77,224.33 L99.39,224.31 L100.01,224.30 L100.63,224.31 L101.25,224.33 L101.87,224.37 L102.49,224.42 L103.10,224.49 L103.72,224.57 L104.34,224.67 L104.96,224.78 L105.58,224.90 L106.20,225.04 L106.82,225.19 L107.43,225.36 L108.05,225.54 L108.67,225.73 L109.29,225.94 L109.91,226.16 L110.53,226.39 L111.15,226.63 L111.77,226.89 L112.38,227.16 L113.00,227.44 L113.62,227.73 L114.24,228.03 L114.86,228.34 L115.48,228.66 L116.10,229.00 L116.71,229.34 L117.33,229.69 L117.95,230.05 L118.57,230.42 L119.19,230.79 L119.81,231.18 L120.43,231.57 L121.04,231.97 L121.66,232.38 L122.28,232.79 L122.90,233.21 L123.52,233.64 L124.14,234.07 L124.76,234.50 L125.37,234.94 L125.99,235.38 L126.61,235.83 L127.23,236.28 L127.85,236.74 L128.47,237.19 L129.09,237.65 L129.70,238.11 L130.32,238.57 L130.94,239.03 L131.56,239.50 L132.18,239.97 L132.80,240.44 L133.42,240.91 L134.03,241.38 L134.65,241.85 L135.27,242.31 L135.89,242.78 L136.51,243.24 L137.13,243.69 L137.75,244.15 L138.37,244.60 L138.98,245.04 L139.60,245.48 L140.22,245.92 L140.84,246.35 L141.46,246.77 L142.08,247.19 L142.70,247.60 L143.31,248.01 L143.93,248.40 L144.55,248.79 L145.17,249.17 L145.79,249.54 L146.41,249.90 L147.03,250.26 L147.64,250.60 L148.26,250.93 L148.88,251.26 L149.50,251.57 L150.12,251.87 L150.74,252.16 L151.36,252.44 L151.97,252.70 L152.59,252.96 L153.21,253.20 L153.83,253.43 L154.45,253.65 L155.07,253.85 L155.69,254.04 L156.30,254.22 L156.92,254.38 L157.54,254.53 L158.16,254.66 L158.78,254.78 L159.40,254.88 L160.02,254.97 L160.63,255.05 L161.25,255.11 L161.87,255.15 L162.49,255.18 L163.11,255.20 L163.73,255.20 L164.35,255.18 L164.97,255.15 L165.58,255.10 L166.20,255.04 L166.82,254.96 L167.44,254.87 L168.06,254.76 L168.68,254.64 L169.30,254.50 L169.91,254.34 L170.53,254.17 L171.15,253.99 L171.77,253.79 L172.39,253.58 L173.01,253.35 L173.63,253.11 L174.24,252.85 L174.86,252.58 L175.48,252.30 L176.10,252.00 L176.72,251.69 L177.34,251.37 L177.96,251.04 L178.57,250.69 L179.19,250.33 L179.81,249.96 L180.43,249.58 L181.05,249.19 L181.67,248.79 L182.29,248.38 L182.90,247.96 L183.52,247.53 L184.14,247.09 L184.76,246.64 L185.38,246.19 L186.00,245.73 L186.62,245.26 L187.23,244.79 L187.85,244.31 L188.47,243.82 L189.09,243.33 L189.71,242.84 L190.33,242.34 L190.95,241.84 L191.57,241.34 L192.18,240.84 L192.80,240.33 L193.42,239.83 L194.04,239.33 L194.66,238.83 L195.28,238.34 L195.90,237.84 L196.51,237.35 L197.13,236.86 L197.75,236.37 L198.37,235.89 L198.99,235.41 L199.61,234.94 L200.23,234.47 L200.84,234.00 L201.46,233.55 L202.08,233.10 L202.70,232.65 L203.32,232.21 L203.94,231.79 L204.56,231.36 L205.17,230.95 L205.79,230.55 L206.41,230.16 L207.03,229.77 L207.65,229.40 L208.27,229.04 L208.89,228.69 L209.50,228.35 L210.12,228.02 L210.74,227.71 L211.36,227.41 L211.98,227.12 L212.60,226.84 L213.22,226.58 L213.83,226.33 L214.45,226.09 L215.07,225.87 L215.69,225.66 L216.31,225.47 L216.93,225.29 L217.55,225.12 L218.17,224.97 L218.78,224.84 L219.40,224.72 L220.02,224.61 L220.64,224.52 L221.26,224.45 L221.88,224.39 L222.50,224.35 L223.11,224.32 L223.73,224.30 L224.35,224.30 L224.97,224.32 L225.59,224.35 L226.21,224.39 L226.83,224.46 L227.44,224.53 L228.06,224.62 L228.68,224.72 L229.30,224.84 L229.92,224.98 L230.54,225.12 L231.16,225.28 L231.77,225.46 L232.39,225.64 L233.01,225.84 L233.63,226.06 L234.25,226.28 L234.87,226.52 L235.49,226.77 L236.10,227.03 L236.72,227.31 L237.34,227.59 L237.96,227.89 L238.58,228.20 L239.20,228.52 L239.82,228.84 L240.43,229.18 L241.05,229.53 L241.67,229.88 L242.29,230.25 L242.91,230.62 L243.53,231.00 L244.15,231.39 L244.77,231.79 L245.38,232.19 L246.00,232.60 L246.62,233.02 L247.24,233.44 L247.86,233.87 L248.48,234.30 L249.10,234.74 L249.71,235.18 L250.33,235.63 L250.95,236.08 L251.57,236.53 L252.19,236.99 L252.81,237.44 L253.43,237.90 L254.04,238.36 L254.66,238.82 L255.28,239.29 L255.90,239.75 M261.10,243.67 L261.72,244.13 L262.34,244.58 L262.95,245.02 L263.57,245.46 L264.19,245.90 L264.81,246.33 L265.43,246.75 L266.04,247.17 L266.66,247.58 L267.28,247.98 L267.90,248.38 L268.52,248.77 L269.13,249.15 L269.75,249.52 L270.37,249.88 L270.99,250.24 L271.61,250.58 L272.23,250.91 L272.84,251.24 L273.46,251.55 L274.08,251.85 L274.70,252.14 L275.32,252.42 L275.93,252.69 L276.55,252.94 L277.17,253.19 L277.79,253.41 L278.41,253.63 L279.02,253.84 L279.64,254.03 L280.26,254.20 L280.88,254.37 L281.50,254.51 L282.11,254.65 L282.73,254.77 L283.35,254.88 L283.97,254.97 L284.59,255.04 L285.20,255.10 L285.82,255.15 L286.44,255.18 L287.06,255.20 L287.68,255.20 L288.30,255.18 L288.91,255.15 L289.53,255.11 L290.15,255.05 L290.77,254.97 L291.39,254.88 L292.00,254.77 L292.62,254.65 L293.24,254.51 L293.86,254.36 L294.48,254.19 L295.09,254.01 L295.71,253.81 L296.33,253.60 L296.95,253.37 L297.57,253.13 L298.18,252.88 L298.80,252.61 L299.42,252.33 L300.04,252.03 L300.66,251.72 L301.27,251.40 L301.89,251.07 L302.51,250.73 L303.13,250.37 L303.75,250.00 L304.37,249.62 L304.98,249.23 L305.60,248.83 L306.22,248.42 L306.84,248.00 L307.46,247.57 L308.07,247.14 L308.69,246.69 L309.31,246.24 L309.93,245.78 L310.55,245.31 L311.16,244.84 L311.78,244.36 L312.40,243.88" fill="none" stroke="#ff0000" stroke-width="0.85" stroke-linejoin="round"/>
<path d="M69.70,239.60 L70.32,238.56 L70.94,237.52 L71.56,236.48 L72.17,235.44 L72.79,234.41 L73.41,233.39 L74.03,232.37 L74.65,231.37 L75.27,230.37 L75.88,229.39 L76.50,228.41 L77.12,227.46 L77.74,226.51 L78.36,225.59 L78.98,224.68 L79.60,223.79 L80.21,222.91 L80.83,222.06 L81.45,221.23 L82.07,220.43 L82.69,219.64 L83.31,218.88 L83.92,218.15 L84.54,217.44 L85.16,216.75 L85.78,216.09 L86.40,215.46 L87.02,214.86 L87.64,214.29 L88.25,213.75 L88.87,213.23 L89.49,212.75 L90.11,212.29 L90.73,211.87 L91.35,211.48 L91.96,211.11 L92.58,210.78 L93.20,210.48 L93.82,210.22 L94.44,209.98 L95.06,209.78 L95.68,209.60 L96.29,209.46 L96.91,209.35 L97.53,209.27 L98.15,209.22 L98.77,209.20 L99.39,209.21 L100.00,209.25 L100.62,209.33 L101.24,209.43 L101.86,209.56 L102.48,209.72 L103.10,209.90 L103.71,210.12 L104.33,210.36 L104.95,210.63 L105.57,210.93 L106.19,211.25 L106.81,211.60 L107.43,211.97 L108.04,212.37 L108.66,212.79 L109.28,213.23 L109.90,213.70 L110.52,214.19 L111.14,214.70 L111.75,215.23 L112.37,215.78 L112.99,216.35 L113.61,216.94 L114.23,217.55 L114.85,218.17 L115.47,218.81 L116.08,219.47 L116.70,220.14 L117.32,220.83 L117.94,221.54 L118.56,222.25 L119.18,222.98 L119.79,223.73 L120.41,224.48 L121.03,225.25 L121.65,226.02 L122.27,226.81 L122.89,227.61 L123.51,228.41 L124.12,229.22 L124.74,230.04 L125.36,230.87 L125.98,231.70 L126.60,232.54 L127.22,233.39 L127.83,234.24 L128.45,235.09 L129.07,235.94 L129.69,236.80 L130.31,237.66 L130.93,238.52 L131.55,239.38 L132.16,240.25 L132.78,241.12 L133.40,241.99 L134.02,242.86 L134.64,243.72 L135.26,244.59 L135.87,245.45 L136.49,246.30 L137.11,247.15 L137.73,247.99 L138.35,248.83 L138.97,249.66 L139.59,250.49 L140.20,251.31 L140.82,252.11 L141.44,252.91 L142.06,253.70 L142.68,254.48 L143.30,255.25 L143.91,256.01 L144.53,256.75 L145.15,257.48 L145.77,258.20 L146.39,258.90 L147.01,259.59 L147.63,260.26 L148.24,260.92 L148.86,261.56 L149.48,262.18 L150.10,262.79 L150.72,263.37 L151.34,263.94 L151.95,264.48 L152.57,265.01 L153.19,265.51 L153.81,265.99 L154.43,266.45 L155.05,266.89 L155.67,267.30 L156.28,267.69 L156.90,268.06 L157.52,268.39 L158.14,268.71 L158.76,268.99 L159.38,269.25 L159.99,269.48 L160.61,269.69 L161.23,269.86 L161.85,270.01 L162.47,270.13 L163.09,270.21 L163.70,270.27 L164.32,270.30 L164.94,270.29 L165.56,270.26 L166.18,270.19 L166.80,270.10 L167.42,269.97 L168.03,269.81 L168.65,269.62 L169.27,269.40 L169.89,269.14 L170.51,268.86 L171.13,268.54 L171.74,268.19 L172.36,267.81 L172.98,267.39 L173.60,266.95 L174.22,266.48 L174.84,265.97 L175.46,265.44 L176.07,264.87 L176.69,264.28 L177.31,263.66 L177.93,263.01 L178.55,262.33 L179.17,261.63 L179.78,260.90 L180.40,260.14 L181.02,259.36 L181.64,258.56 L182.26,257.73 L182.88,256.88 L183.50,256.01 L184.11,255.12 L184.73,254.21 L185.35,253.29 L185.97,252.34 L186.59,251.38 L187.21,250.41 L187.82,249.42 L188.44,248.42 L189.06,247.41 L189.68,246.39 L190.30,245.36 L190.92,244.32 L191.54,243.28 L192.15,242.23 L192.77,241.18 L193.39,240.13 L194.01,239.08 L194.63,238.04 L195.25,237.00 L195.86,235.96 L196.48,234.93 L197.10,233.90 L197.72,232.88 L198.34,231.87 L198.96,230.87 L199.58,229.88 L200.19,228.90 L200.81,227.93 L201.43,226.98 L202.05,226.05 L202.67,225.13 L203.29,224.23 L203.90,223.35 L204.52,222.49 L205.14,221.65 L205.76,220.83 L206.38,220.03 L207.00,219.26 L207.62,218.51 L208.23,217.79 L208.85,217.09 L209.47,216.42 L210.09,215.78 L210.71,215.16 L211.33,214.57 L211.94,214.01 L212.56,213.49 L213.18,212.99 L213.80,212.52 L214.42,212.08 L215.04,211.67 L215.66,211.29 L216.27,210.95 L216.89,210.63 L217.51,210.35 L218.13,210.09 L218.75,209.87 L219.37,209.68 L219.98,209.53 L220.60,209.40 L221.22,209.30 L221.84,209.24 L222.46,209.21 L223.08,209.20 L223.70,209.23 L224.31,209.29 L224.93,209.37 L225.55,209.49 L226.17,209.63 L226.79,209.81 L227.41,210.01 L228.02,210.24 L228.64,210.49 L229.26,210.78 L229.88,211.09 L230.50,211.42 L231.12,211.78 L231.73,212.17 L232.35,212.58 L232.97,213.01 L233.59,213.46 L234.21,213.94 L234.83,214.44 L235.45,214.96 L236.06,215.50 L236.68,216.06 L237.30,216.64 L237.92,217.24 L238.54,217.86 L239.16,218.49 L239.77,219.14 L240.39,219.81 L241.01,220.49 L241.63,221.18 L242.25,221.89 L242.87,222.62 L243.49,223.35 L244.10,224.10 L244.72,224.86 L245.34,225.63 L245.96,226.42 L246.58,227.21 L247.20,228.01 L247.81,228.82 L248.43,229.63 L249.05,230.46 L249.67,231.29 L250.29,232.12 L250.91,232.97 L251.53,233.81 L252.14,234.66 L252.76,235.52 L253.38,236.37 L254.00,237.23 L254.62,238.09 L255.24,238.95 L255.85,239.82 L256.47,240.69 L257.09,241.56 L257.71,242.43 L258.33,243.29 L258.95,244.16 L259.57,245.02 L260.18,245.87 L260.80,246.73 L261.42,247.57 L262.04,248.41 L262.66,249.25 L263.28,250.08 L263.89,250.90 L264.51,251.71 L265.13,252.52 L265.75,253.31 L266.37,254.09 L266.99,254.87 L267.61,255.63 L268.22,256.38 L268.84,257.12 L269.46,257.84 L270.08,258.55 L270.70,259.25 L271.32,259.93 L271.93,260.59 L272.55,261.24 L273.17,261.87 L273.79,262.49 L274.41,263.08 L275.03,263.66 L275.65,264.21 L276.26,264.75 L276.88,265.26 L277.50,265.76 L278.12,266.23 L278.74,266.68 L279.36,267.10 L279.97,267.50 L280.59,267.88 L281.21,268.23 L281.83,268.55 L282.45,268.85 L283.07,269.13 L283.69,269.37 L284.30,269.59 L284.92,269.78 L285.54,269.94 L286.16,270.07 L286.78,270.17 L287.40,270.25 L288.01,270.29 L288.63,270.30 L289.25,270.28 L289.87,270.23 L290.49,270.15 L291.11,270.04 L291.72,269.89 L292.34,269.72 L292.96,269.51 L293.58,269.27 L294.20,269.00 L294.82,268.70 L295.44,268.37 L296.05,268.00 L296.67,267.60 L297.29,267.18 L297.91,266.72 L298.53,266.23 L299.15,265.71 L299.76,265.16 L300.38,264.58 L301.00,263.97 L301.62,263.34 L302.24,262.67 L302.86,261.98 L303.48,261.27 L304.09,260.52 L304.71,259.76 L305.33,258.96 L305.95,258.15 L306.57,257.31 L307.19,256.45 L307.80,255.57 L308.42,254.67 L309.04,253.75 L309.66,252.82 L310.28,251.86 L310.90,250.90 L311.52,249.92 L312.13,248.92 L312.75,247.91 L313.37,246.90 L313.99,245.87 L314.61,244.84 L315.23,243.80 L315.84,242.75 L316.46,241.71 L317.08,240.65 L317.70,239.60" fill="none" stroke="#ff8000" stroke-width="0.85" stroke-linejoin="round"/>
<path d="M69.70,239.60 L70.32,237.95 L70.94,236.30 L71.56,234.66 L72.17,233.02 L72.79,231.40 L73.41,229.78 L74.03,228.18 L74.65,226.60 L75.27,225.03 L75.88,223.48 L76.50,221.96 L77.12,220.46 L77.74,218.99 L78.36,217.54 L78.98,216.13 L79.60,214.75 L80.21,213.40 L80.83,212.09 L81.45,210.82 L82.07,209.58 L82.69,208.39 L83.31,207.23 L83.92,206.12 L84.54,205.05 L85.16,204.03 L85.78,203.05 L86.40,202.12 L87.02,201.24 L87.64,200.40 L88.25,199.62 L88.87,198.88 L89.49,198.19 L90.11,197.55 L90.73,196.97 L91.35,196.43 L91.96,195.94 L92.58,195.51 L93.20,195.12 L93.82,194.78 L94.44,194.50 L95.06,194.26 L95.68,194.07 L96.29,193.94 L96.91,193.85 L97.53,193.80 L98.15,193.81 L98.77,193.86 L99.39,193.96 L100.00,194.10 L100.62,194.29 L101.24,194.52 L101.86,194.79 L102.48,195.11 L103.10,195.46 L103.71,195.86 L104.33,196.29 L104.95,196.77 L105.57,197.28 L106.19,197.82 L106.81,198.41 L107.43,199.02 L108.04,199.67 L108.66,200.35 L109.28,201.06 L109.90,201.80 L110.52,202.57 L111.14,203.37 L111.75,204.20 L112.37,205.05 L112.99,205.92 L113.61,206.82 L114.23,207.74 L114.85,208.69 L115.47,209.65 L116.08,210.64 L116.70,211.64 L117.32,212.66 L117.94,213.70 L118.56,214.76 L119.18,215.83 L119.79,216.92 L120.41,218.02 L121.03,219.13 L121.65,220.25 L122.27,221.39 L122.89,222.54 L123.51,223.69 L124.12,224.86 L124.74,226.03 L125.36,227.21 L125.98,228.40 L126.60,229.60 L127.22,230.80 L127.83,232.00 L128.45,233.21 L129.07,234.42 L129.69,235.64 L130.31,236.86 L130.93,238.08 L131.55,239.30 L132.16,240.52 L132.78,241.75 L133.40,242.97 L134.02,244.20 L134.64,245.42 L135.26,246.64 L135.87,247.85 L136.49,249.07 L137.11,250.27 L137.73,251.47 L138.35,252.66 L138.97,253.85 L139.59,255.03 L140.20,256.19 L140.82,257.35 L141.44,258.50 L142.06,259.64 L142.68,260.77 L143.30,261.88 L143.91,262.98 L144.53,264.07 L145.15,265.14 L145.77,266.19 L146.39,267.23 L147.01,268.25 L147.63,269.25 L148.24,270.23 L148.86,271.19 L149.48,272.13 L150.10,273.05 L150.72,273.94 L151.34,274.81 L151.95,275.65 L152.57,276.47 L153.19,277.26 L153.81,278.02 L154.43,278.75 L155.05,279.45 L155.67,280.12 L156.28,280.76 L156.90,281.36 L157.52,281.93 L158.14,282.46 L158.76,282.96 L159.38,283.41 L159.99,283.83 L160.61,284.21 L161.23,284.55 L161.85,284.84 L162.47,285.10 L163.09,285.31 L163.70,285.47 L164.32,285.60 L164.94,285.67 L165.56,285.70 L166.18,285.68 L166.80,285.61 L167.42,285.50 L168.03,285.34 L168.65,285.12 L169.27,284.86 L169.89,284.55 L170.51,284.18 L171.13,283.77 L171.74,283.30 L172.36,282.79 L172.98,282.22 L173.60,281.61 L174.22,280.94 L174.84,280.22 L175.46,279.45 L176.07,278.64 L176.69,277.77 L177.31,276.86 L177.93,275.90 L178.55,274.89 L179.17,273.84 L179.78,272.74 L180.40,271.60 L181.02,270.42 L181.64,269.20 L182.26,267.93 L182.88,266.63 L183.50,265.29 L184.11,263.92 L184.73,262.52 L185.35,261.08 L185.97,259.61 L186.59,258.11 L187.21,256.59 L187.82,255.05 L188.44,253.48 L189.06,251.89 L189.68,250.29 L190.30,248.67 L190.92,247.04 L191.54,245.40 L192.15,243.75 L192.77,242.09 L193.39,240.43 L194.01,238.77 L194.63,237.13 L195.25,235.48 L195.86,233.84 L196.48,232.21 L197.10,230.59 L197.72,228.98 L198.34,227.39 L198.96,225.81 L199.58,224.25 L200.19,222.72 L200.81,221.21 L201.43,219.72 L202.05,218.26 L202.67,216.83 L203.29,215.44 L203.90,214.07 L204.52,212.74 L205.14,211.45 L205.76,210.19 L206.38,208.98 L207.00,207.80 L207.62,206.67 L208.23,205.58 L208.85,204.54 L209.47,203.54 L210.09,202.58 L210.71,201.67 L211.33,200.82 L211.94,200.00 L212.56,199.24 L213.18,198.53 L213.80,197.87 L214.42,197.25 L215.04,196.69 L215.66,196.18 L216.27,195.72 L216.89,195.31 L217.51,194.95 L218.13,194.63 L218.75,194.37 L219.37,194.16 L219.98,194.00 L220.60,193.88 L221.22,193.82 L221.84,193.80 L222.46,193.83 L223.08,193.90 L223.70,194.02 L224.31,194.19 L224.93,194.40 L225.55,194.65 L226.17,194.94 L226.79,195.28 L227.41,195.66 L228.02,196.07 L228.64,196.53 L229.26,197.02 L229.88,197.55 L230.50,198.11 L231.12,198.71 L231.73,199.34 L232.35,200.01 L232.97,200.70 L233.59,201.43 L234.21,202.18 L234.83,202.97 L235.45,203.78 L236.06,204.62 L236.68,205.48 L237.30,206.37 L237.92,207.28 L238.54,208.21 L239.16,209.17 L239.77,210.14 L240.39,211.14 L241.01,212.15 L241.63,213.18 L242.25,214.23 L242.87,215.29 L243.49,216.37 L244.10,217.46 L244.72,218.57 L245.34,219.69 L245.96,220.82 L246.58,221.96 L247.20,223.11 L247.81,224.27 L248.43,225.44 L249.05,226.62 L249.67,227.81 L250.29,229.00 L250.91,230.20 L251.53,231.40 L252.14,232.61 L252.76,233.82 L253.38,235.03 L254.00,236.25 L254.62,237.47 L255.24,238.69 L255.85,239.91 L256.47,241.13 L257.09,242.36 L257.71,243.59 L258.33,244.81 L258.95,246.03 L259.57,247.25 L260.18,248.46 L260.80,249.67 L261.42,250.87 L262.04,252.07 L262.66,253.26 L263.28,254.44 L263.89,255.61 L264.51,256.78 L265.13,257.93 L265.75,259.07 L266.37,260.21 L266.99,261.33 L267.61,262.43 L268.22,263.53 L268.84,264.60 L269.46,265.67 L270.08,266.71 L270.70,267.74 L271.32,268.75 L271.93,269.74 L272.55,270.71 L273.17,271.66 L273.79,272.59 L274.41,273.50 L275.03,274.38 L275.65,275.24 L276.26,276.07 L276.88,276.87 L277.50,277.64 L278.12,278.39 L278.74,279.11 L279.36,279.79 L279.97,280.44 L280.59,281.06 L281.21,281.65 L281.83,282.20 L282.45,282.71 L283.07,283.19 L283.69,283.63 L284.30,284.03 L284.92,284.38 L285.54,284.70 L286.16,284.98 L286.78,285.21 L287.40,285.40 L288.01,285.54 L288.63,285.64 L289.25,285.69 L289.87,285.70 L290.49,285.65 L291.11,285.56 L291.72,285.42 L292.34,285.24 L292.96,285.00 L293.58,284.71 L294.20,284.37 L294.82,283.98 L295.44,283.54 L296.05,283.05 L296.67,282.51 L297.29,281.92 L297.91,281.28 L298.53,280.59 L299.15,279.84 L299.76,279.05 L300.38,278.21 L301.00,277.32 L301.62,276.39 L302.24,275.40 L302.86,274.37 L303.48,273.30 L304.09,272.18 L304.71,271.02 L305.33,269.81 L305.95,268.57 L306.57,267.29 L307.19,265.97 L307.80,264.61 L308.42,263.22 L309.04,261.80 L309.66,260.35 L310.28,258.87 L310.90,257.36 L311.52,255.82 L312.13,254.27 L312.75,252.69 L313.37,251.09 L313.99,249.48 L314.61,247.86 L315.23,246.22 L315.84,244.57 L316.46,242.92 L317.08,241.26 L317.70,239.60" fill="none" stroke="#008000" stroke-width="0.85" stroke-linejoin="round"/>
<path d="M69.70,239.60 L70.32,237.28 L70.94,234.97 L71.56,232.67 L72.17,230.37 L72.79,228.09 L73.41,225.83 L74.03,223.59 L74.65,221.38 L75.27,219.20 L75.88,217.04 L76.50,214.93 L77.12,212.85 L77.74,210.81 L78.36,208.82 L78.98,206.88 L79.60,204.98 L80.21,203.14 L80.83,201.35 L81.45,199.63 L82.07,197.96 L82.69,196.35 L83.31,194.80 L83.92,193.32 L84.54,191.91 L85.16,190.56 L85.78,189.28 L86.40,188.08 L87.02,186.94 L87.64,185.87 L88.25,184.88 L88.87,183.96 L89.49,183.11 L90.11,182.33 L90.73,181.63 L91.35,181.00 L91.96,180.44 L92.58,179.96 L93.20,179.54 L93.82,179.20 L94.44,178.92 L95.06,178.72 L95.68,178.58 L96.29,178.51 L96.91,178.51 L97.53,178.57 L98.15,178.69 L98.77,178.88 L99.39,179.12 L100.00,179.43 L100.62,179.79 L101.24,180.21 L101.86,180.69 L102.48,181.22 L103.10,181.79 L103.71,182.42 L104.33,183.10 L104.95,183.82 L105.57,184.59 L106.19,185.41 L106.81,186.26 L107.43,187.15 L108.04,188.09 L108.66,189.06 L109.28,190.06 L109.90,191.10 L110.52,192.17 L111.14,193.27 L111.75,194.40 L112.37,195.56 L112.99,196.74 L113.61,197.95 L114.23,199.19 L114.85,200.44 L115.47,201.72 L116.08,203.02 L116.70,204.33 L117.32,205.67 L117.94,207.02 L118.56,208.39 L119.18,209.77 L119.79,211.16 L120.41,212.57 L121.03,213.99 L121.65,215.42 L122.27,216.86 L122.89,218.31 L123.51,219.77 L124.12,221.24 L124.74,222.71 L125.36,224.19 L125.98,225.68 L126.60,227.17 L127.22,228.67 L127.83,230.17 L128.45,231.67 L129.07,233.18 L129.69,234.69 L130.31,236.20 L130.93,237.71 L131.55,239.22 L132.16,240.74 L132.78,242.26 L133.40,243.78 L134.02,245.30 L134.64,246.81 L135.26,248.32 L135.87,249.83 L136.49,251.34 L137.11,252.84 L137.73,254.34 L138.35,255.83 L138.97,257.31 L139.59,258.79 L140.20,260.26 L140.82,261.72 L141.44,263.17 L142.06,264.62 L142.68,266.05 L143.30,267.47 L143.91,268.88 L144.53,270.27 L145.15,271.66 L145.77,273.02 L146.39,274.37 L147.01,275.70 L147.63,277.02 L148.24,278.31 L148.86,279.58 L149.48,280.83 L150.10,282.06 L150.72,283.27 L151.34,284.44 L151.95,285.59 L152.57,286.72 L153.19,287.81 L153.81,288.87 L154.43,289.89 L155.05,290.88 L155.67,291.84 L156.28,292.76 L156.90,293.64 L157.52,294.47 L158.14,295.27 L158.76,296.02 L159.38,296.72 L159.99,297.38 L160.61,297.99 L161.23,298.54 L161.85,299.05 L162.47,299.50 L163.09,299.89 L163.70,300.23 L164.32,300.51 L164.94,300.72 L165.56,300.88 L166.18,300.97 L166.80,301.00 L167.42,300.96 L168.03,300.86 L168.65,300.69 L169.27,300.45 L169.89,300.13 L170.51,299.75 L171.13,299.30 L171.74,298.78 L172.36,298.18 L172.98,297.51 L173.60,296.77 L174.22,295.95 L174.84,295.06 L175.46,294.10 L176.07,293.06 L176.69,291.96 L177.31,290.78 L177.93,289.53 L178.55,288.21 L179.17,286.82 L179.78,285.37 L180.40,283.85 L181.02,282.27 L181.64,280.62 L182.26,278.91 L182.88,277.14 L183.50,275.32 L184.11,273.44 L184.73,271.51 L185.35,269.54 L185.97,267.51 L186.59,265.44 L187.21,263.34 L187.82,261.19 L188.44,259.01 L189.06,256.80 L189.68,254.56 L190.30,252.30 L190.92,250.02 L191.54,247.72 L192.15,245.41 L192.77,243.09 L193.39,240.76 L194.01,238.44 L194.63,236.13 L195.25,233.82 L195.86,231.52 L196.48,229.23 L197.10,226.96 L197.72,224.71 L198.34,222.48 L198.96,220.28 L199.58,218.12 L200.19,215.98 L200.81,213.88 L201.43,211.83 L202.05,209.81 L202.67,207.84 L203.29,205.92 L203.90,204.05 L204.52,202.24 L205.14,200.48 L205.76,198.78 L206.38,197.14 L207.00,195.57 L207.62,194.05 L208.23,192.61 L208.85,191.23 L209.47,189.91 L210.09,188.67 L210.71,187.50 L211.33,186.40 L211.94,185.37 L212.56,184.41 L213.18,183.53 L213.80,182.71 L214.42,181.97 L215.04,181.31 L215.66,180.71 L216.27,180.19 L216.89,179.74 L217.51,179.36 L218.13,179.05 L218.75,178.81 L219.37,178.64 L219.98,178.54 L220.60,178.50 L221.22,178.53 L221.84,178.62 L222.46,178.78 L223.08,178.99 L223.70,179.27 L224.31,179.60 L224.93,180.00 L225.55,180.44 L226.17,180.94 L226.79,181.50 L227.41,182.10 L228.02,182.76 L228.64,183.46 L229.26,184.20 L229.88,184.99 L230.50,185.83 L231.12,186.70 L231.73,187.62 L232.35,188.57 L232.97,189.55 L233.59,190.57 L234.21,191.63 L234.83,192.72 L235.45,193.83 L236.06,194.98 L236.68,196.15 L237.30,197.34 L237.92,198.57 L238.54,199.81 L239.16,201.08 L239.77,202.37 L240.39,203.67 L241.01,205.00 L241.63,206.34 L242.25,207.70 L242.87,209.08 L243.49,210.46 L244.10,211.87 L244.72,213.28 L245.34,214.70 L245.96,216.14 L246.58,217.59 L247.20,219.04 L247.81,220.50 L248.43,221.97 L249.05,223.45 L249.67,224.94 L250.29,226.42 L250.91,227.92 L251.53,229.42 L252.14,230.92 L252.76,232.42 L253.38,233.93 L254.00,235.44 L254.62,236.95 L255.24,238.47 L255.85,239.98 L256.47,241.50 L257.09,243.02 L257.71,244.54 L258.33,246.05 L258.95,247.57 L259.57,249.08 L260.18,250.59 L260.80,252.09 L261.42,253.59 L262.04,255.08 L262.66,256.57 L263.28,258.05 L263.89,259.53 L264.51,260.99 L265.13,262.45 L265.75,263.90 L266.37,265.34 L266.99,266.76 L267.61,268.18 L268.22,269.58 L268.84,270.97 L269.46,272.34 L270.08,273.70 L270.70,275.04 L271.32,276.36 L271.93,277.67 L272.55,278.95 L273.17,280.21 L273.79,281.45 L274.41,282.67 L275.03,283.86 L275.65,285.02 L276.26,286.16 L276.88,287.26 L277.50,288.34 L278.12,289.38 L278.74,290.39 L279.36,291.37 L279.97,292.30 L280.59,293.20 L281.21,294.06 L281.83,294.88 L282.45,295.65 L283.07,296.38 L283.69,297.06 L284.30,297.69 L284.92,298.27 L285.54,298.80 L286.16,299.28 L286.78,299.70 L287.40,300.07 L288.01,300.37 L288.63,300.62 L289.25,300.81 L289.87,300.93 L290.49,300.99 L291.11,300.99 L291.72,300.92 L292.34,300.78 L292.96,300.57 L293.58,300.30 L294.20,299.95 L294.82,299.54 L295.44,299.05 L296.05,298.49 L296.67,297.85 L297.29,297.15 L297.91,296.37 L298.53,295.51 L299.15,294.59 L299.76,293.59 L300.38,292.52 L301.00,291.38 L301.62,290.16 L302.24,288.88 L302.86,287.53 L303.48,286.11 L304.09,284.62 L304.71,283.07 L305.33,281.45 L305.95,279.77 L306.57,278.03 L307.19,276.24 L307.80,274.39 L308.42,272.48 L309.04,270.53 L309.66,268.53 L310.28,266.48 L310.90,264.39 L311.52,262.27 L312.13,260.10 L312.75,257.91 L313.37,255.68 L313.99,253.44 L314.61,251.16 L315.23,248.87 L315.84,246.57 L316.46,244.25 L317.08,241.93 L317.70,239.60" fill="none" stroke="#0000ff" stroke-width="0.85" stroke-linejoin="round"/>
<path d="M69.70,239.60 L70.32,236.56 L70.94,233.52 L71.56,230.49 L72.17,227.48 L72.79,224.49 L73.41,221.53 L74.03,218.60 L74.65,215.71 L75.27,212.86 L75.88,210.06 L76.50,207.32 L77.12,204.63 L77.74,202.00 L78.36,199.43 L78.98,196.94 L79.60,194.52 L80.21,192.17 L80.83,189.91 L81.45,187.73 L82.07,185.63 L82.69,183.62 L83.31,181.71 L83.92,179.88 L84.54,178.15 L85.16,176.52 L85.78,174.98 L86.40,173.55 L87.02,172.21 L87.64,170.97 L88.25,169.83 L88.87,168.79 L89.49,167.84 L90.11,167.00 L90.73,166.26 L91.35,165.61 L91.96,165.06 L92.58,164.61 L93.20,164.25 L93.82,163.98 L94.44,163.80 L95.06,163.71 L95.68,163.71 L96.29,163.79 L96.91,163.96 L97.53,164.21 L98.15,164.53 L98.77,164.94 L99.39,165.41 L100.00,165.96 L100.62,166.57 L101.24,167.26 L101.86,168.00 L102.48,168.81 L103.10,169.67 L103.71,170.59 L104.33,171.57 L104.95,172.59 L105.57,173.67 L106.19,174.79 L106.81,175.95 L107.43,177.16 L108.04,178.40 L108.66,179.69 L109.28,181.00 L109.90,182.35 L110.52,183.73 L111.14,185.14 L111.75,186.58 L112.37,188.04 L112.99,189.52 L113.61,191.03 L114.23,192.55 L114.85,194.10 L115.47,195.66 L116.08,197.24 L116.70,198.83 L117.32,200.44 L117.94,202.05 L118.56,203.68 L119.18,205.32 L119.79,206.97 L120.41,208.63 L121.03,210.29 L121.65,211.96 L122.27,213.64 L122.89,215.32 L123.51,217.01 L124.12,218.70 L124.74,220.39 L125.36,222.09 L125.98,223.79 L126.60,225.49 L127.22,227.20 L127.83,228.91 L128.45,230.61 L129.07,232.32 L129.69,234.04 L130.31,235.75 L130.93,237.46 L131.55,239.17 L132.16,240.90 L132.78,242.64 L133.40,244.38 L134.02,246.11 L134.64,247.85 L135.26,249.58 L135.87,251.32 L136.49,253.05 L137.11,254.78 L137.73,256.50 L138.35,258.23 L138.97,259.95 L139.59,261.66 L140.20,263.38 L140.82,265.09 L141.44,266.79 L142.06,268.49 L142.68,270.18 L143.30,271.86 L143.91,273.54 L144.53,275.21 L145.15,276.87 L145.77,278.51 L146.39,280.15 L147.01,281.77 L147.63,283.38 L148.24,284.97 L148.86,286.55 L149.48,288.10 L150.10,289.64 L150.72,291.16 L151.34,292.65 L151.95,294.12 L152.57,295.57 L153.19,296.98 L153.81,298.37 L154.43,299.72 L155.05,301.04 L155.67,302.32 L156.28,303.56 L156.90,304.77 L157.52,305.92 L158.14,307.04 L158.76,308.10 L159.38,309.12 L159.99,310.08 L160.61,310.99 L161.23,311.83 L161.85,312.62 L162.47,313.35 L163.09,314.00 L163.70,314.59 L164.32,315.11 L164.94,315.56 L165.56,315.93 L166.18,316.22 L166.80,316.43 L167.42,316.56 L168.03,316.60 L168.65,316.55 L169.27,316.42 L169.89,316.19 L170.51,315.88 L171.13,315.46 L171.74,314.95 L172.36,314.35 L172.98,313.64 L173.60,312.84 L174.22,311.93 L174.84,310.93 L175.46,309.82 L176.07,308.61 L176.69,307.30 L177.31,305.89 L177.93,304.38 L178.55,302.78 L179.17,301.07 L179.78,299.27 L180.40,297.37 L181.02,295.38 L181.64,293.30 L182.26,291.13 L182.88,288.87 L183.50,286.53 L184.11,284.12 L184.73,281.62 L185.35,279.06 L185.97,276.42 L186.59,273.72 L187.21,270.96 L187.82,268.15 L188.44,265.28 L189.06,262.37 L189.68,259.42 L190.30,256.43 L190.92,253.41 L191.54,250.37 L192.15,247.31 L192.77,244.23 L193.39,241.14 L194.01,238.08 L194.63,235.04 L195.25,232.00 L195.86,228.98 L196.48,225.98 L197.10,223.01 L197.72,220.06 L198.34,217.15 L198.96,214.28 L199.58,211.46 L200.19,208.68 L200.81,205.96 L201.43,203.30 L202.05,200.71 L202.67,198.18 L203.29,195.72 L203.90,193.34 L204.52,191.03 L205.14,188.81 L205.76,186.67 L206.38,184.62 L207.00,182.66 L207.62,180.78 L208.23,179.01 L208.85,177.33 L209.47,175.74 L210.09,174.25 L210.71,172.86 L211.33,171.57 L211.94,170.38 L212.56,169.29 L213.18,168.30 L213.80,167.41 L214.42,166.62 L215.04,165.92 L215.66,165.32 L216.27,164.82 L216.89,164.41 L217.51,164.10 L218.13,163.88 L218.75,163.74 L219.37,163.70 L219.98,163.74 L220.60,163.87 L221.22,164.07 L221.84,164.36 L222.46,164.73 L223.08,165.16 L223.70,165.68 L224.31,166.26 L224.93,166.91 L225.55,167.62 L226.17,168.40 L226.79,169.23 L227.41,170.13 L228.02,171.07 L228.64,172.08 L229.26,173.13 L229.88,174.22 L230.50,175.37 L231.12,176.55 L231.73,177.78 L232.35,179.04 L232.97,180.34 L233.59,181.67 L234.21,183.04 L234.83,184.43 L235.45,185.86 L236.06,187.30 L236.68,188.78 L237.30,190.27 L237.92,191.79 L238.54,193.32 L239.16,194.88 L239.77,196.45 L240.39,198.03 L241.01,199.63 L241.63,201.24 L242.25,202.87 L242.87,204.50 L243.49,206.14 L244.10,207.80 L244.72,209.46 L245.34,211.12 L245.96,212.80 L246.58,214.48 L247.20,216.16 L247.81,217.85 L248.43,219.54 L249.05,221.24 L249.67,222.94 L250.29,224.64 L250.91,226.35 L251.53,228.05 L252.14,229.76 L252.76,231.47 L253.38,233.18 L254.00,234.89 L254.62,236.60 L255.24,238.32 L255.85,240.03 L256.47,241.77 L257.09,243.51 L257.71,245.25 L258.33,246.98 L258.95,248.72 L259.57,250.45 L260.18,252.18 L260.80,253.91 L261.42,255.64 L262.04,257.36 L262.66,259.09 L263.28,260.81 L263.89,262.52 L264.51,264.23 L265.13,265.94 L265.75,267.64 L266.37,269.34 L266.99,271.02 L267.61,272.70 L268.22,274.38 L268.84,276.04 L269.46,277.69 L270.08,279.33 L270.70,280.96 L271.32,282.58 L271.93,284.18 L272.55,285.76 L273.17,287.33 L273.79,288.88 L274.41,290.40 L275.03,291.91 L275.65,293.39 L276.26,294.85 L276.88,296.28 L277.50,297.68 L278.12,299.05 L278.74,300.38 L279.36,301.68 L279.97,302.95 L280.59,304.17 L281.21,305.35 L281.83,306.49 L282.45,307.58 L283.07,308.62 L283.69,309.61 L284.30,310.54 L284.92,311.42 L285.54,312.24 L286.16,312.99 L286.78,313.68 L287.40,314.31 L288.01,314.86 L288.63,315.35 L289.25,315.75 L289.87,316.08 L290.49,316.34 L291.11,316.50 L291.72,316.59 L292.34,316.59 L292.96,316.50 L293.58,316.32 L294.20,316.05 L294.82,315.68 L295.44,315.22 L296.05,314.66 L296.67,314.01 L297.29,313.25 L297.91,312.40 L298.53,311.44 L299.15,310.39 L299.76,309.23 L300.38,307.97 L301.00,306.61 L301.62,305.15 L302.24,303.59 L302.86,301.94 L303.48,300.18 L304.09,298.33 L304.71,296.39 L305.33,294.35 L305.95,292.22 L306.57,290.01 L307.19,287.71 L307.80,285.34 L308.42,282.88 L309.04,280.35 L309.66,277.75 L310.28,275.08 L310.90,272.35 L311.52,269.56 L312.13,266.72 L312.75,263.83 L313.37,260.90 L313.99,257.93 L314.61,254.93 L315.23,251.89 L315.84,248.84 L316.46,245.77 L317.08,242.69 L317.70,239.60" fill="none" stroke="#800080" stroke-width="0.85" stroke-linejoin="round"/>
<path d="M69.70,1.5 v3.3 M69.70,160.5 v3.3 M69.70,319.4 v-3.3 M82.10,1.5 v2.2 M82.10,160.5 v2.2 M82.10,319.4 v-2.2 M94.50,1.5 v2.2 M94.50,160.5 v2.2 M94.50,319.4 v-2.2 M106.90,1.5 v2.2 M106.90,160.5 v2.2 M106.90,319.4 v-2.2 M119.30,1.5 v3.3 M119.30,160.5 v3.3 M119.30,319.4 v-3.3 M131.70,1.5 v2.2 M131.70,160.5 v2.2 M131.70,319.4 v-2.2 M144.10,1.5 v2.2 M144.10,160.5 v2.2 M144.10,319.4 v-2.2 M156.50,1.5 v2.2 M156.50,160.5 v2.2 M156.50,319.4 v-2.2 M168.90,1.5 v3.3 M168.90,160.5 v3.3 M168.90,319.4 v-3.3 M181.30,1.5 v2.2 M181.30,160.5 v2.2 M181.30,319.4 v-2.2 M193.70,1.5 v2.2 M193.70,160.5 v2.2 M193.70,319.4 v-2.2 M206.10,1.5 v2.2 M206.10,160.5 v2.2 M206.10,319.4 v-2.2 M218.50,1.5 v3.3 M218.50,160.5 v3.3 M218.50,319.4 v-3.3 M230.90,1.5 v2.2 M230.90,160.5 v2.2 M230.90,319.4 v-2.2 M243.30,1.5 v2.2 M243.30,160.5 v2.2 M243.30,319.4 v-2.2 M255.70,1.5 v2.2 M255.70,160.5 v2.2 M255.70,319.4 v-2.2 M268.10,1.5 v3.3 M268.10,160.5 v3.3 M268.10,319.4 v-3.3 M280.50,1.5 v2.2 M280.50,160.5 v2.2 M280.50,319.4 v-2.2 M292.90,1.5 v2.2 M292.90,160.5 v2.2 M292.90,319.4 v-2.2 M305.30,1.5 v2.2 M305.30,160.5 v2.2 M305.30,319.4 v-2.2 M317.70,1.5 v3.3 M317.70,160.5 v3.3 M317.70,319.4 v-3.3 M64.5,159.75 h2.2 M322.5,159.75 h-2.2 M64.5,151.00 h2.2 M322.5,151.00 h-2.2 M64.5,142.25 h2.2 M322.5,142.25 h-2.2 M64.5,133.50 h2.2 M322.5,133.50 h-2.2 M64.5,124.75 h3.3 M322.5,124.75 h-3.3 M64.5,116.00 h2.2 M322.5,116.00 h-2.2 M64.5,107.25 h2.2 M322.5,107.25 h-2.2 M64.5,98.50 h2.2 M322.5,98.50 h-2.2 M64.5,89.75 h2.2 M322.5,89.75 h-2.2 M64.5,81.00 h3.3 M322.5,81.00 h-3.3 M64.5,72.25 h2.2 M322.5,72.25 h-2.2 M64.5,63.50 h2.2 M322.5,63.50 h-2.2 M64.5,54.75 h2.2 M322.5,54.75 h-2.2 M64.5,46.00 h2.2 M322.5,46.00 h-2.2 M64.5,37.25 h3.3 M322.5,37.25 h-3.3 M64.5,28.50 h2.2 M322.5,28.50 h-2.2 M64.5,19.75 h2.2 M322.5,19.75 h-2.2 M64.5,11.00 h2.2 M322.5,11.00 h-2.2 M64.5,2.25 h2.2 M322.5,2.25 h-2.2 M64.5,318.35 h2.2 M322.5,318.35 h-2.2 M64.5,309.60 h2.2 M322.5,309.60 h-2.2 M64.5,300.85 h2.2 M322.5,300.85 h-2.2 M64.5,292.10 h2.2 M322.5,292.10 h-2.2 M64.5,283.35 h3.3 M322.5,283.35 h-3.3 M64.5,274.60 h2.2 M322.5,274.60 h-2.2 M64.5,265.85 h2.2 M322.5,265.85 h-2.2 M64.5,257.10 h2.2 M322.5,257.10 h-2.2 M64.5,248.35 h2.2 M322.5,248.35 h-2.2 M64.5,239.60 h3.3 M322.5,239.60 h-3.3 M64.5,230.85 h2.2 M322.5,230.85 h-2.2 M64.5,222.10 h2.2 M322.5,222.10 h-2.2 M64.5,213.35 h2.2 M322.5,213.35 h-2.2 M64.5,204.60 h2.2 M322.5,204.60 h-2.2 M64.5,195.85 h3.3 M322.5,195.85 h-3.3 M64.5,187.10 h2.2 M322.5,187.10 h-2.2 M64.5,178.35 h2.2 M322.5,178.35 h-2.2 M64.5,169.60 h2.2 M322.5,169.60 h-2.2 M64.5,160.85 h2.2 M322.5,160.85 h-2.2" stroke="#808080" stroke-width="0.85" fill="none"/>
<g stroke="#ababab" stroke-width="1" fill="none">
<rect x="64.5" y="1.5" width="258.0" height="317.9"/>
<line x1="64.5" y1="160.5" x2="322.5" y2="160.5" stroke="#959595"/>
</g>
<g font-size="15" fill="#111">
<text x="61.3" y="41.05" text-anchor="end" textLength="25.7" lengthAdjust="spacingAndGlyphs">0.05</text>
<text x="61.3" y="84.80" text-anchor="end" textLength="25.7" lengthAdjust="spacingAndGlyphs">0.00</text>
<text x="61.3" y="128.55" text-anchor="end" textLength="25.7" lengthAdjust="spacingAndGlyphs">0.05</text>
<text x="34.1" y="128.55" text-anchor="end">−</text>
<text x="61.3" y="199.65" text-anchor="end" textLength="25.7" lengthAdjust="spacingAndGlyphs">0.05</text>
<text x="61.3" y="243.40" text-anchor="end" textLength="25.7" lengthAdjust="spacingAndGlyphs">0.00</text>
<text x="61.3" y="287.15" text-anchor="end" textLength="25.7" lengthAdjust="spacingAndGlyphs">0.05</text>
<text x="34.1" y="287.15" text-anchor="end">−</text>
<text x="69.30" y="333" text-anchor="middle">0.0</text>
<text x="118.90" y="333" text-anchor="middle">0.2</text>
<text x="168.50" y="333" text-anchor="middle">0.4</text>
<text x="218.10" y="333" text-anchor="middle">0.6</text>
<text x="267.70" y="333" text-anchor="middle">0.8</text>
<text x="317.30" y="333" text-anchor="middle">1.0</text>
</g>
<text transform="translate(16.9,81.20) rotate(-90)" font-size="15.2" fill="#111" text-anchor="middle"><tspan font-style="italic">ϕ</tspan>/2<tspan font-style="italic">π</tspan></text>
<text transform="translate(16.9,239.80) rotate(-90)" font-size="15.2" fill="#111" text-anchor="middle"><tspan font-style="italic">ϕ</tspan>/2<tspan font-style="italic">π</tspan></text>
<text x="193.8" y="352.5" font-size="15.2" fill="#111" text-anchor="middle"><tspan font-style="italic">β</tspan>/2<tspan font-style="italic">π</tspan></text>
<text x="209.2" y="16.70" font-size="11.6" fill="#800080">5 GHz</text>
<text x="209.2" y="31.95" font-size="11.6" fill="#0000ff">4 GHz</text>
<text x="209.2" y="47.20" font-size="11.6" fill="#008000">3 GHZ</text>
<text x="209.2" y="62.45" font-size="11.6" fill="#ff8000">2 GHz</text>
<text x="209.2" y="77.70" font-size="11.6" fill="#ff0000">1 GHz</text>
<text x="277.7" y="127.9" font-size="15" fill="#111"><tspan font-style="italic">α</tspan> = 0</text>
<text x="271.7" y="199" font-size="15" fill="#111"><tspan font-style="italic">α</tspan> = <tspan font-style="italic">π</tspan>/2</text>
</svg></body></html>
